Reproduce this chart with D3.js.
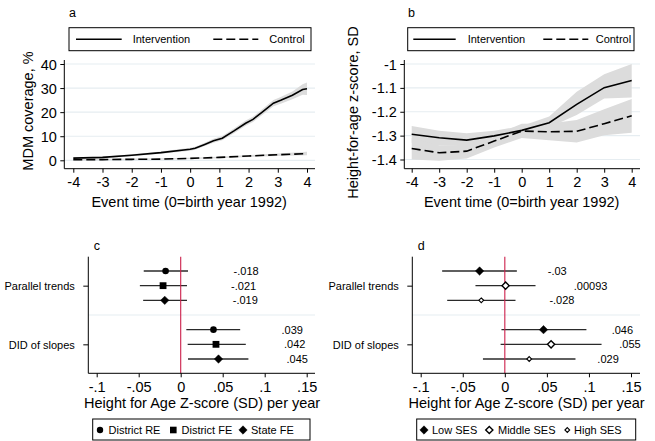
<!DOCTYPE html>
<html><head><meta charset="utf-8">
<script src="https://cdn.jsdelivr.net/npm/d3@7"></script>
<style>html,body{margin:0;padding:0;background:#fff;}svg{display:block;}</style>
</head><body>
<svg id="chart" width="655" height="441"></svg>
<script>
// ---------- DATA ----------
// Panel a: MDM coverage, %
const aIntX = [-4,-3,-2,-1,0,0.17,0.5,0.8,1.1,1.5,1.9,2.15,2.5,2.85,3.1,3.5,3.85,4];
const aIntY = [0.9,1.2,2.1,3.2,4.6,5.0,6.6,8.1,9.2,12.2,15.4,17.0,20.3,23.7,24.9,27.0,29.4,29.7];
const aIntHW = [0.3,0.3,0.4,0.5,0.6,0.6,0.7,0.8,0.9,1.0,1.1,1.1,1.2,1.3,1.4,1.6,2.2,2.6];
const aYears = [-4,-3,-2,-1,0,1,2,3,4];
const aCtlY = [0.2,0.3,0.4,0.5,0.8,1.2,1.8,2.3,2.8];
const aCtlHW = [0.3,0.3,0.3,0.3,0.3,0.3,0.4,0.5,0.7];
const aYTicks = [0,10,20,30,40];
// Panel b: Height-for-age z-score
const bYears = [-4,-3,-2,-1,0,1,2,3,4];
const bInt = [-1.294,-1.309,-1.319,-1.301,-1.278,-1.246,-1.169,-1.099,-1.069];
const bIntLo = [-1.33,-1.34,-1.345,-1.32,-1.295,-1.265,-1.214,-1.144,-1.14];
const bIntHi = [-1.26,-1.28,-1.29,-1.28,-1.26,-1.22,-1.116,-1.043,-1.0];
const bCtl = [-1.354,-1.372,-1.365,-1.323,-1.281,-1.284,-1.282,-1.25,-1.217];
const bCtlLo = [-1.40,-1.405,-1.396,-1.35,-1.31,-1.319,-1.329,-1.298,-1.288];
const bCtlHi = [-1.31,-1.34,-1.34,-1.298,-1.25,-1.249,-1.235,-1.19,-1.147];
const bYTicks = [-1.4,-1.3,-1.2,-1.1,-1];
const bYTickLabels = ["-1.4","-1.3","-1.2","-1.1","-1"];
const xYearTicks = [-4,-3,-2,-1,0,1,2,3,4];
const xYearLabels = ["-4","-3","-2","-1","0","1","2","3","4"];
const seriesNames = ["Intervention","Control"];
// Panels c & d
const groups = ["Parallel trends","DID of slopes"];
const cModels = ["District RE","District FE","State FE"];
const cEst = [-0.018,-0.021,-0.019,0.039,0.042,0.045];
const cLo = [-0.044,-0.0486,-0.0447,0.0067,0.0083,0.0087];
const cHi = [0.0087,0.0075,0.0075,0.0708,0.0775,0.0806];
const cLabels = ["-.018","-.021","-.019",".039",".042",".045"];
const dModels = ["Low SES","Middle SES","High SES"];
const dEst = [-0.03,0.00093,-0.028,0.046,0.055,0.029];
const dLo = [-0.0745,-0.0349,-0.0685,-0.004,-0.005,-0.026];
const dHi = [0.0143,0.0365,0.0127,0.097,0.115,0.084];
const dLabels = ["-.03",".00093","-.028",".046",".055",".029"];
const coefTicks = [-0.1,-0.05,0,0.05,0.1,0.15];
const coefTickLabels = ["-.1","-.05","0",".05",".1",".15"];

// ---------- DRAW ----------
const FONT = "'Liberation Sans', Arial, Helvetica, sans-serif";
const svg = d3.select("#chart").style("font-family", FONT);
const GRID = "#e6edf1";
const BAND = "#dcdcdc";

function txt(g, x, y, s, size, anchor) {
  return g.append("text").attr("x", x).attr("y", y).text(s)
    .attr("font-size", size).attr("text-anchor", anchor || "start")
    .attr("dominant-baseline", "central").attr("fill", "#000");
}
function styleAxis(sel) {
  sel.select(".domain").remove();
  sel.selectAll(".tick line").attr("stroke", "#000").attr("stroke-width", 1);
  sel.selectAll(".tick text").attr("fill", "#000").attr("font-family", FONT);
}

function timePanel(opt) {
  const g = svg.append("g");
  const x = d3.scaleLinear().domain([-4,4]).range(opt.xr);
  const y = d3.scaleLinear().domain(opt.yd).range(opt.yr);
  g.selectAll(".grid").data(opt.yTicks).join("line")
    .attr("x1", opt.axX).attr("x2", opt.right)
    .attr("y1", d => y(d)).attr("y2", d => y(d))
    .attr("stroke", GRID).attr("stroke-width", 1.2);
  opt.series.forEach(s => {
    const area = d3.area().x((d,i) => x(s.x[i])).y0((d,i) => y(s.lo[i])).y1((d,i) => y(s.hi[i]));
    g.append("path").attr("d", area(s.x)).attr("fill", BAND);
  });
  opt.series.forEach(s => {
    const line = d3.line().x((d,i) => x(s.x[i])).y((d,i) => y(s.y[i]));
    g.append("path").attr("d", line(s.x)).attr("fill", "none").attr("stroke", "#000")
      .attr("stroke-width", 1.6).attr("stroke-dasharray", s.dash || null);
  });
  g.append("line").attr("x1", opt.axX).attr("x2", opt.axX).attr("y1", 60).attr("y2", opt.axY).attr("stroke", "#000");
  g.append("line").attr("x1", opt.axX).attr("x2", opt.right).attr("y1", opt.axY).attr("y2", opt.axY).attr("stroke", "#000");
  const xa = g.append("g").attr("transform", `translate(0,${opt.axY})`)
    .call(d3.axisBottom(x).tickValues(xYearTicks).tickFormat((d,i) => xYearLabels[i]).tickSize(4).tickPadding(3));
  styleAxis(xa);
  xa.selectAll(".tick text").attr("font-size", 14.5).attr("dy", null).attr("y", 13.6).attr("dominant-baseline", "central");
  const ya = g.append("g").attr("transform", `translate(${opt.axX},0)`)
    .call(d3.axisLeft(y).tickValues(opt.yTicks).tickFormat((d,i) => opt.yLabels[i]).tickSize(4).tickPadding(3.5));
  styleAxis(ya);
  ya.selectAll(".tick text").attr("font-size", 14.5).attr("dy", null).attr("dominant-baseline", "central");
  txt(g, (opt.axX + opt.right) / 2 - 0.5, 201.7, "Event time (0=birth year 1992)", 14.5, "middle");
  txt(g, 0, 0, opt.yTitle, 14.5, "middle").attr("transform", `translate(${opt.yTitleX},${opt.yTitleY}) rotate(-90)`);
  txt(g, opt.lab[0], 13, opt.label, 12.5, "start");
  const L = opt.legend;
  g.append("rect").attr("x", L.x).attr("y", 27.7).attr("width", L.w).attr("height", 23)
    .attr("fill", "#fff").attr("stroke", "#000").attr("stroke-width", 1);
  g.append("line").attr("x1", L.l1[0]).attr("x2", L.l1[1]).attr("y1", 39.3).attr("y2", 39.3).attr("stroke", "#000").attr("stroke-width", 1.6);
  txt(g, L.t1, 39.3, seriesNames[0], 11, "start");
  g.append("line").attr("x1", L.l2[0]).attr("x2", L.l2[1]).attr("y1", 39.3).attr("y2", 39.3).attr("stroke", "#000").attr("stroke-width", 1.6).attr("stroke-dasharray", "9,4");
  txt(g, L.t2, 39.3, seriesNames[1], 11, "start");
}

timePanel({
  xr: [73.3, 307], yd: [0, 40], yr: [160.3, 64], axX: 64.3, axY: 168.7, right: 315,
  yTicks: aYTicks, yLabels: aYTicks.map(String),
  yTitle: "MDM coverage, %", yTitleX: 28.3, yTitleY: 111,
  label: "a", lab: [69],
  series: [
    {x: aIntX, y: aIntY, lo: aIntY.map((v,i) => v - aIntHW[i]), hi: aIntY.map((v,i) => v + aIntHW[i])},
    {x: aYears, y: aCtlY, lo: aCtlY.map((v,i) => v - aCtlHW[i]), hi: aCtlY.map((v,i) => v + aCtlHW[i]), dash: "9,4"}
  ],
  legend: {x: 69, w: 242, l1: [76, 121.7], t1: 132.7, l2: [213.3, 258.3], t2: 269.3}
});
timePanel({
  xr: [411.7, 631.7], yd: [-1.4, -1], yr: [159.5, 64], axX: 404.3, axY: 168.7, right: 640,
  yTicks: bYTicks, yLabels: bYTickLabels,
  yTitle: "Height-for-age z-score, SD", yTitleX: 353.3, yTitleY: 112.5,
  label: "b", lab: [408],
  series: [
    {x: bYears, y: bInt, lo: bIntLo, hi: bIntHi},
    {x: bYears, y: bCtl, lo: bCtlLo, hi: bCtlHi, dash: "9,4"}
  ],
  legend: {x: 407.7, w: 226.3, l1: [413.3, 455.7], t1: 467.7, l2: [543.3, 588.3], t2: 595.7}
});

function marker(g, type, cx, cy, h) {
  if (type === "circle") return g.append("circle").attr("cx", cx).attr("cy", cy).attr("r", h).attr("fill", "#000");
  if (type === "square") return g.append("rect").attr("x", cx - h).attr("y", cy - h).attr("width", 2*h).attr("height", 2*h).attr("fill", "#000");
  const p = `M${cx},${cy-h}L${cx+h},${cy}L${cx},${cy+h}L${cx-h},${cy}Z`;
  const filled = type === "diamond";
  return g.append("path").attr("d", p).attr("fill", filled ? "#000" : "#fff")
    .attr("stroke", "#000").attr("stroke-width", filled ? 0.5 : (type === "odiamond" ? 1.4 : 1.1));
}

function coefPanel(opt) {
  const g = svg.append("g");
  const x = d3.scaleLinear().domain([-0.1, 0.15]).range(opt.xr);
  const y = d3.scaleLinear().domain([0, 6]).range([271, 359]);
  const rowIdx = [0,1,2,4,5,6];
  g.append("line").attr("x1", opt.axX).attr("x2", opt.right).attr("y1", y(3)).attr("y2", y(3)).attr("stroke", GRID).attr("stroke-width", 1.2);
  rowIdx.forEach((r, i) => {
    g.append("line").attr("x1", x(opt.lo[i])).attr("x2", x(opt.hi[i])).attr("y1", y(r)).attr("y2", y(r))
      .attr("stroke", "#2a2a2a").attr("stroke-width", 1.3);
  });
  g.append("line").attr("x1", x(0)).attr("x2", x(0)).attr("y1", 256.7).attr("y2", 373.3).attr("stroke", "#cc1f4a").attr("stroke-width", 1.1);
  rowIdx.forEach((r, i) => {
    marker(g, opt.shapes[i % 3], x(opt.est[i]), y(r), opt.sizes[i % 3]);
    txt(g, x(opt.est[i] + 0.081), y(r), opt.labels[i], 11, "start");
  });
  g.append("line").attr("x1", opt.axX).attr("x2", opt.axX).attr("y1", 256.7).attr("y2", 373.3).attr("stroke", "#000");
  g.append("line").attr("x1", opt.axX).attr("x2", opt.right).attr("y1", 373.3).attr("y2", 373.3).attr("stroke", "#000");
  const xa = g.append("g").attr("transform", "translate(0,373.3)")
    .call(d3.axisBottom(x).tickValues(coefTicks).tickFormat((d,i) => coefTickLabels[i]).tickSize(4).tickPadding(3));
  styleAxis(xa);
  xa.selectAll(".tick text").attr("font-size", 14.5).attr("dy", null).attr("y", 13.4).attr("dominant-baseline", "central");
  const yCat = d3.scalePoint().domain(groups).range([y(1), y(5)]);
  const ya = g.append("g").attr("transform", `translate(${opt.axX},0)`)
    .call(d3.axisLeft(yCat).tickSize(5).tickPadding(8.5));
  styleAxis(ya);
  ya.selectAll(".tick text").attr("font-size", 11).attr("dy", null).attr("dominant-baseline", "central");
  txt(g, (opt.axX + opt.right) / 2 + 0.5, 403, "Height for Age Z-score (SD) per year", 14.5, "middle");
  txt(g, opt.axX + 5.5, 246, opt.label, 12.5, "start");
  const L = opt.legend;
  g.append("rect").attr("x", L.x).attr("y", 419).attr("width", L.w).attr("height", 21)
    .attr("fill", "#fff").attr("stroke", "#000").attr("stroke-width", 1);
  opt.models.forEach((m, i) => {
    marker(g, opt.shapes[i], L.m[i], 430, opt.legSizes[i]);
    txt(g, L.t[i], 430, m, 11, "start");
  });
}

coefPanel({
  xr: [96.7, 306.7], axX: 88.3, right: 315, label: "c",
  est: cEst, lo: cLo, hi: cHi, labels: cLabels, models: cModels,
  shapes: ["circle", "square", "diamond"], sizes: [3.3, 3.4, 4.2], legSizes: [3.2, 3.3, 4.2],
  legend: {x: 92.7, w: 217.3, m: [100, 173.3, 243], t: [108.5, 181.5, 251]}
});
coefPanel({
  xr: [420.7, 631], axX: 412.3, right: 640, label: "d",
  est: dEst, lo: dLo, hi: dHi, labels: dLabels, models: dModels,
  shapes: ["diamond", "odiamond", "sdiamond"], sizes: [4.2, 3.6, 2.4], legSizes: [4.2, 3.6, 2.4],
  legend: {x: 416.7, w: 219, m: [424, 489.3, 567.3], t: [432, 498, 574]}
});
</script>
</body></html>
